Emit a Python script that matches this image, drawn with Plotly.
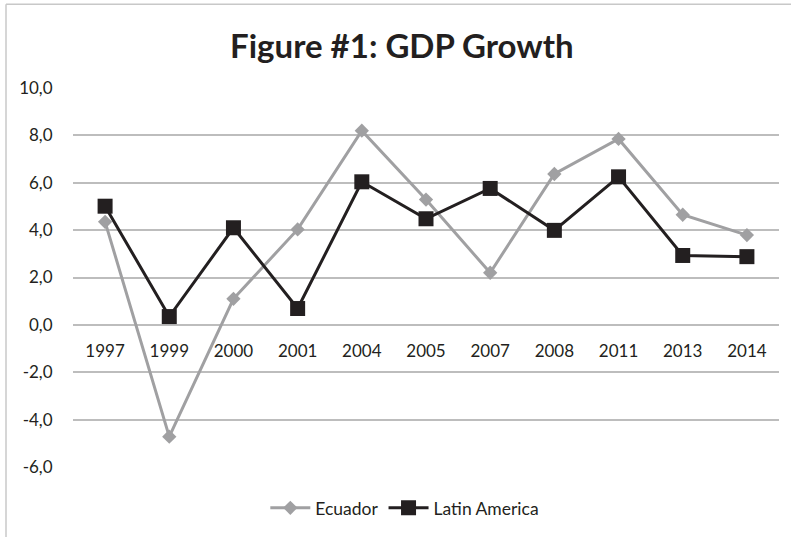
import plotly.graph_objects as go

years = ["1997", "1999", "2000", "2001", "2004", "2005", "2007", "2008", "2011", "2013", "2014"]
ecuador = [4.35, -4.72, 1.1, 4.03, 8.2, 5.29, 2.2, 6.37, 7.85, 4.65, 3.79]
latin_america = [5.01, 0.35, 4.1, 0.69, 6.04, 4.48, 5.76, 3.99, 6.25, 2.93, 2.88]
y_tickvals = [-6, -4, -2, 0, 2, 4, 6, 8, 10]
y_ticktext = ["-6,0", "-4,0", "-2,0", "0,0", "2,0", "4,0", "6,0", "8,0", "10,0"]

FONT = "Lato, 'Open Sans', sans-serif"

fig = go.Figure()
fig.add_trace(go.Scatter(
    x=years, y=ecuador, name="Ecuador", mode="lines+markers",
    line=dict(color="#a0a0a2", width=3),
    marker=dict(symbol="diamond", size=11, color="#a0a0a2"),
))
fig.add_trace(go.Scatter(
    x=years, y=latin_america, name="Latin America", mode="lines+markers",
    line=dict(color="#231f20", width=3),
    marker=dict(symbol="square", size=15, color="#231f20"),
))

fig.update_layout(
    width=791, height=537,
    margin=dict(l=73, r=12, t=88, b=69),
    paper_bgcolor="white", plot_bgcolor="white",
    font=dict(family=FONT, size=17, color="#231f20"),
    title=dict(text="<b>Figure #1: GDP Growth</b>", xref="container", x=0.508, xanchor="center",
               yref="container", y=1 - 46 / 537, yanchor="middle",
               font=dict(family=FONT, size=33, color="#231f20")),
    showlegend=True,
    legend=dict(orientation="h", x=0.47, xanchor="center", y=-0.105, yanchor="middle",
                font=dict(size=17.5), itemwidth=40, bgcolor="rgba(0,0,0,0)"),
    xaxis=dict(type="category", anchor="free", position=0.375, showline=False, showgrid=False,
               zeroline=False, ticks="outside", ticklen=11, tickcolor="rgba(0,0,0,0)",
               tickfont=dict(size=17), range=[-0.5, 10.5]),
    yaxis=dict(range=[-6, 10], tickvals=y_tickvals, ticktext=y_ticktext, showgrid=True,
               gridcolor="#bdbdbd", gridwidth=1.5, zeroline=True, zerolinecolor="#bdbdbd",
               zerolinewidth=1.5, showline=False, ticks="outside", ticklen=16,
               tickcolor="rgba(0,0,0,0)", tickfont=dict(size=17)),
    shapes=[
        dict(type="line", xref="paper", yref="paper", x0=(6 - 73) / 706, x1=(791 - 73) / 706,
             y0=(468 - 4) / 380, y1=(468 - 4) / 380, line=dict(color="#c8c8c8", width=1.5)),
        dict(type="line", xref="paper", yref="paper", x0=(6 - 73) / 706, x1=(6 - 73) / 706,
             y0=(468 - 4) / 380, y1=(468 - 540) / 380, line=dict(color="#c8c8c8", width=1.5)),
    ],
)

fig.write_html("out.html")
